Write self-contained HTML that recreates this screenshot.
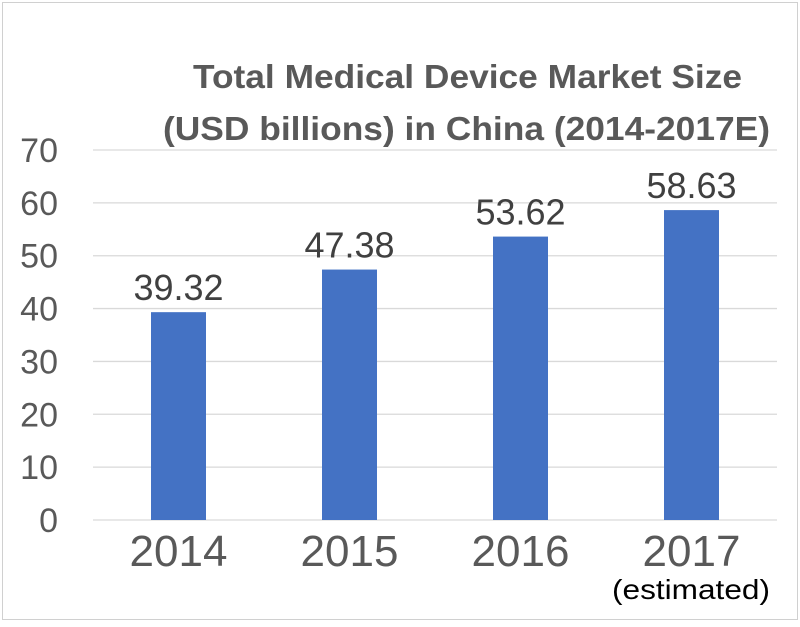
<!DOCTYPE html>
<html><head><meta charset="utf-8">
<style>
html,body{margin:0;padding:0;background:#fff;}
body{width:800px;height:622px;overflow:hidden;}
svg text{font-family:"Liberation Sans","DejaVu Sans",sans-serif;}
</style></head>
<body>
<svg id="chart" width="800" height="622" viewBox="0 0 800 622" xmlns="http://www.w3.org/2000/svg">
<rect x="2.5" y="2.5" width="795" height="617" fill="#fff" stroke="#d0d0d0" stroke-width="1"/>
<text x="193" y="88" textLength="549" lengthAdjust="spacingAndGlyphs" font-size="33" font-weight="bold" fill="#595959">Total Medical Device Market Size</text>
<text x="163" y="140" textLength="607" lengthAdjust="spacingAndGlyphs" font-size="33" font-weight="bold" fill="#595959">(USD billions) in China (2014-2017E)</text>
<g id="grid"></g><g id="bars"></g><g id="labels"></g>
<text x="612" y="599" textLength="158" lengthAdjust="spacingAndGlyphs" font-size="28" fill="#000">(estimated)</text>
</svg>
<script>
const categories = ["2014","2015","2016","2017"];
const values = [39.32,47.38,53.62,58.63];
const valueLabels = ["39.32","47.38","53.62","58.63"];
const yTicks = [0,10,20,30,40,50,60,70];
const NS="http://www.w3.org/2000/svg";
const plotL=93, plotR=777, y0=520, y70=150;
const yScale=v=>y0-(v/70)*(y0-y70);
const band=(plotR-plotL)/categories.length;
const xCenter=i=>plotL+band*(i+0.5);
const bw=55;
function mk(tag,attrs,parent,txt){const e=document.createElementNS(NS,tag);for(const k in attrs)e.setAttribute(k,attrs[k]);if(txt!==undefined)e.textContent=txt;parent.appendChild(e);return e;}
const grid=document.getElementById('grid'),bars=document.getElementById('bars'),labels=document.getElementById('labels');
yTicks.forEach(t=>{
  const l=mk('line',{x1:plotL,x2:plotR,y1:yScale(t),y2:yScale(t),stroke:'#d9d9d9','stroke-width':1.3},grid);
  
  
  const tx=mk('text',{x:58,y:yScale(t)+12,'text-anchor':'end','font-size':34,fill:'#595959'},labels,String(t));
  
  
});
categories.forEach((c,i)=>{
  const r=mk('rect',{x:xCenter(i)-bw/2,y:yScale(values[i]),width:bw,height:y0-yScale(values[i]),fill:'#4472c4'},bars);
  
  
  const v=mk('text',{x:xCenter(i),y:yScale(values[i])-12,'text-anchor':'middle','font-size':36,fill:'#404040'},labels,valueLabels[i]);
  
  
  const x=mk('text',{x:xCenter(i),y:566,'text-anchor':'middle','font-size':44,fill:'#595959'},labels,c);
  
  
});
</script>
</body></html>
